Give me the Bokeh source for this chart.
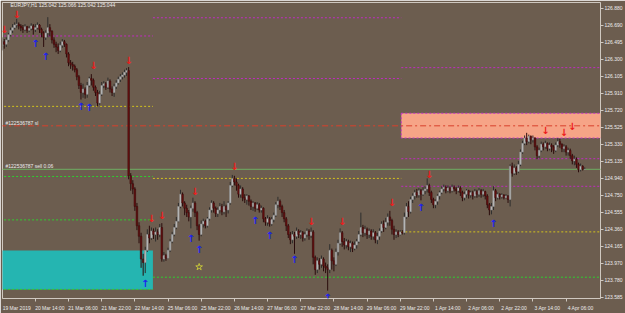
from bokeh.plotting import figure
from bokeh.models import Range1d, FixedTicker, Label, PrintfTickFormatter
from bokeh.core.properties import value
from bokeh.embed import file_html
from bokeh.resources import INLINE

# ---------------- data ----------------
header_text = "EURJPY,H1  125.042 125.066 125.042 125.044"
first_open = 126.45

closes = [
    126.50,126.47,126.52,126.58,126.63,126.66,126.69,126.70,126.68,126.66,
    126.64,126.67,126.63,126.65,126.68,126.64,126.66,126.69,126.64,126.60,
    126.55,126.60,126.66,126.62,126.52,126.47,126.44,126.40,126.46,126.50,
    126.47,126.36,126.26,126.24,126.22,126.18,126.10,126.00,125.92,125.96,
    125.90,126.00,126.08,126.06,125.98,125.92,125.80,125.90,126.00,126.02,
    125.98,126.05,125.96,125.92,125.99,126.03,126.07,126.10,126.12,126.15,
    126.17,124.97,124.88,124.82,124.62,124.40,124.28,124.02,123.98,124.12,
    124.30,124.26,124.34,124.30,
    124.33,124.30,124.38,124.02,124.06,124.03,124.12,124.22,124.30,124.38,
    124.45,124.62,124.76,124.66,124.60,124.55,124.50,124.60,124.66,124.55,
    124.40,124.30,124.42,124.45,124.40,124.48,124.58,124.66,124.60,124.54,
    124.58,124.62,124.56,124.62,124.58,124.66,124.86,124.94,124.90,124.86,
    124.76,124.82,124.72,124.70,124.74,124.68,124.62,124.66,124.60,124.64,
    124.58,124.60,124.48,124.44,124.48,124.42,124.47,124.52,124.64,124.68,
    124.62,124.55,124.48,124.40,124.30,124.24,124.30,124.28,124.34,124.30,
    124.32,124.26,124.30,124.34,124.29,124.33,124.04,123.90,124.00,123.96,
    124.02,123.94,123.92,123.90,124.12,124.00,123.96,124.10,124.20,124.32,
    124.22,124.18,124.22,124.16,124.20,124.14,124.18,124.22,124.30,124.38,
    124.32,124.36,124.30,124.34,124.28,124.32,124.24,124.28,124.34,124.42,
    124.38,124.44,124.50,124.46,124.36,124.30,124.33,124.30,124.33,124.32,
    124.50,124.62,124.56,124.70,124.74,124.78,124.75,124.80,124.76,124.80,
    124.82,124.86,124.78,124.70,124.64,124.68,124.74,124.78,124.82,124.84,
    124.80,124.83,124.80,124.84,124.82,124.80,124.83,124.78,124.72,124.76,
    124.80,124.75,124.78,124.74,124.79,124.76,124.80,124.76,124.79,124.74,
    124.64,124.58,124.62,124.80,124.72,124.76,124.73,124.75,124.72,124.74,
    124.70,125.08,125.00,125.06,125.02,125.10,125.24,125.34,125.40,125.36,
    125.42,125.38,125.40,125.30,125.20,125.26,125.33,125.30,125.34,125.28,
    125.32,125.30,125.26,125.32,125.36,125.33,125.28,125.30,125.24,125.26,
    125.20,125.14,125.16,125.10,125.04,125.08,125.042,125.044,
]

highs = [
    126.55,126.53,126.55,126.60,126.66,126.70,126.72,126.76,126.72,126.70,
    126.69,126.70,126.68,126.68,126.71,126.70,126.70,126.72,126.70,126.66,
    126.62,126.63,126.78,126.70,126.63,126.55,126.50,126.48,126.50,126.53,
    126.52,126.48,126.38,126.29,126.27,126.24,126.20,126.12,126.03,126.02,
    125.98,126.04,126.10,126.13,126.08,126.00,125.95,125.94,126.04,126.05,
    126.04,126.09,126.07,125.99,126.02,126.06,126.10,126.13,126.15,126.18,
    126.20,126.21,125.00,124.92,124.84,124.66,124.44,124.32,124.08,124.16,
    124.36,124.40,124.38,124.37,
    124.38,124.36,124.42,124.43,124.10,124.08,124.15,124.25,124.33,124.42,
    124.50,124.66,124.81,124.78,124.68,124.64,124.58,124.63,124.72,124.68,
    124.57,124.42,124.46,124.48,124.47,124.50,124.61,124.69,124.68,124.62,
    124.61,124.66,124.65,124.68,124.64,124.68,124.90,124.98,124.97,124.94,
    124.88,124.86,124.84,124.76,124.76,124.75,124.70,124.68,124.67,124.67,
    124.66,124.63,124.61,124.50,124.52,124.50,124.50,124.55,124.67,124.73,
    124.70,124.64,124.58,124.50,124.42,124.33,124.34,124.33,124.38,124.36,
    124.35,124.34,124.33,124.37,124.36,124.38,124.35,124.06,124.04,124.03,
    124.06,124.04,123.98,123.96,124.19,124.14,124.04,124.14,124.24,124.37,
    124.34,124.26,124.25,124.24,124.23,124.22,124.22,124.25,124.34,124.55,
    124.41,124.40,124.38,124.37,124.36,124.36,124.34,124.32,124.37,124.45,
    124.46,124.49,124.54,124.57,124.48,124.40,124.36,124.35,124.35,124.35,
    124.55,124.66,124.68,124.73,124.77,124.81,124.82,124.83,124.82,124.84,
    124.85,124.94,124.88,124.80,124.72,124.70,124.76,124.80,124.85,124.87,
    124.86,124.86,124.85,124.87,124.86,124.84,124.86,124.85,124.80,124.79,
    124.82,124.81,124.80,124.80,124.82,124.81,124.83,124.82,124.82,124.80,
    124.76,124.66,124.66,124.85,124.82,124.78,124.77,124.77,124.76,124.76,
    124.75,125.10,125.12,125.10,125.08,125.14,125.27,125.37,125.43,125.46,
    125.44,125.43,125.43,125.41,125.32,125.29,125.36,125.35,125.37,125.35,
    125.35,125.34,125.32,125.35,125.40,125.39,125.34,125.33,125.32,125.29,
    125.28,125.22,125.20,125.18,125.12,125.11,125.09,125.066,
]

lows = [
    126.40,126.42,126.44,126.50,126.56,126.60,126.64,126.66,126.64,126.62,
    126.60,126.62,126.60,126.61,126.63,126.58,126.61,126.64,126.60,126.55,
    126.44,126.52,126.55,126.56,126.48,126.43,126.38,126.36,126.38,126.43,
    126.44,126.32,126.22,126.19,126.17,126.15,126.06,125.96,125.84,125.86,
    125.85,125.86,125.98,126.00,125.94,125.88,125.76,125.78,125.88,125.97,
    125.95,125.96,125.92,125.88,125.87,125.96,126.01,126.04,126.07,126.09,
    126.11,124.93,124.80,124.76,124.57,124.35,124.20,123.92,123.83,123.86,
    124.10,124.20,124.24,124.25,
    124.22,124.24,124.27,123.99,123.99,124.00,124.02,124.10,124.20,124.28,
    124.36,124.44,124.60,124.62,124.52,124.50,124.45,124.37,124.56,124.50,
    124.35,124.23,124.28,124.38,124.37,124.38,124.46,124.55,124.55,124.50,
    124.50,124.54,124.52,124.53,124.50,124.54,124.64,124.84,124.86,124.80,
    124.72,124.72,124.68,124.66,124.64,124.63,124.58,124.57,124.56,124.58,
    124.55,124.55,124.44,124.40,124.40,124.39,124.40,124.44,124.50,124.60,
    124.58,124.50,124.44,124.34,124.26,124.19,124.20,124.08,124.25,124.26,
    124.25,124.22,124.23,124.27,124.24,124.26,123.96,123.84,123.86,123.90,
    123.92,123.88,123.86,123.66,123.86,123.90,123.88,123.94,124.06,124.18,
    124.16,124.13,124.14,124.12,124.10,124.10,124.12,124.14,124.20,124.28,
    124.27,124.28,124.25,124.26,124.24,124.24,124.20,124.19,124.24,124.32,
    124.33,124.36,124.40,124.40,124.30,124.24,124.26,124.27,124.29,124.30,
    124.30,124.48,124.50,124.54,124.66,124.70,124.72,124.72,124.69,124.74,
    124.76,124.78,124.74,124.66,124.60,124.60,124.64,124.70,124.76,124.79,
    124.77,124.78,124.77,124.78,124.79,124.76,124.78,124.74,124.68,124.69,
    124.72,124.71,124.72,124.70,124.72,124.72,124.73,124.72,124.73,124.70,
    124.60,124.52,124.53,124.58,124.68,124.70,124.70,124.71,124.70,124.71,
    124.66,124.62,124.96,124.98,124.98,125.00,125.08,125.22,125.32,125.32,
    125.34,125.33,125.35,125.26,125.16,125.17,125.24,125.26,125.28,125.25,
    125.26,125.24,125.22,125.24,125.30,125.29,125.24,125.24,125.20,125.20,
    125.16,125.10,125.09,125.06,125.01,125.02,125.03,125.042,
]

opens = [first_open] + closes[:-1]
bars = list(range(len(closes)))

time_ticks = [0, 16, 32, 48, 64, 80, 96, 112, 128, 144, 160, 176, 192, 208, 224, 240, 256, 272]
time_labels = ["19 Mar 2019", "20 Mar 14:00", "21 Mar 06:00", "21 Mar 22:00", "22 Mar 14:00",
               "25 Mar 06:00", "25 Mar 22:00", "26 Mar 14:00", "27 Mar 06:00", "27 Mar 22:00",
               "28 Mar 14:00", "29 Mar 06:00", "29 Mar 22:00", "1 Apr 14:00", "2 Apr 06:00",
               "2 Apr 22:00", "3 Apr 14:00", "4 Apr 06:00"]

price_ticks = [126.880, 126.690, 126.495, 126.300, 126.105, 125.910, 125.720, 125.525, 125.330,
               125.135, 124.940, 124.750, 124.555, 124.360, 124.165, 123.970, 123.780, 123.585]

# weekly levels: (start bar, end bar, price)
magenta_x0 = [-1, 72.7, 72.7, 192.5, 192.5, 192.5]
magenta_x1 = [72.7, 192.5, 192.5, 292, 292, 292]
magenta_y = [126.565, 126.773, 126.080, 126.204, 125.165, 124.850]
yellow_x0 = [-1, 72.7, 192.5]
yellow_x1 = [72.7, 192.5, 292]
yellow_y = [125.762, 124.940, 124.330]
green_x0 = [-1, -1, 72.7, -1]
green_x1 = [72.7, 72.7, 292, 72.7]
green_y = [124.962, 124.467, 123.813, 123.674]
sl_price = 125.540
order_price = 125.044
last_price = 125.044

supply_zone = dict(left=192.5, right=292, bottom=125.401, top=125.683)
demand_zone = dict(left=-1, right=72.7, bottom=123.674, top=124.118)

sell_x = [1, 7, 44, 61, 72, 77, 93, 112, 149, 164, 188, 206, 262, 271, 275]
sell_y = [126.64, 126.81, 126.23, 126.28, 124.48, 124.52, 124.79, 125.08, 124.45, 124.45,
          124.67, 124.98, 125.49, 125.46, 125.53]
buy_x = [16, 21, 38, 42, 69, 91, 95, 122, 129, 141, 157, 202, 237]
buy_y = [126.48, 126.33, 125.76, 125.75, 123.74, 124.25, 124.13, 124.46, 124.29, 124.02,
         123.58, 124.61, 124.43]
star_x = [95]
star_y = [123.93]

# ---------------- styling ----------------
BG = "#6c5d4f"
FRAME = "#cfc8c0"
TXT = "#ececec"
FONT = "Liberation Sans"

p = figure(width=625, height=313, output_backend="svg", toolbar_location=None,
           x_range=Range1d(0.15, 288.6), y_range=Range1d(123.57, 126.947),
           y_axis_location="right", min_border=0, min_border_left=2, min_border_top=2)
p.background_fill_color = BG
p.border_fill_color = BG
p.outline_line_color = FRAME
p.outline_line_width = 1
p.xgrid.visible = False
p.ygrid.visible = False

# y axis
ya = p.yaxis[0]
ya.ticker = FixedTicker(ticks=price_ticks)
ya.formatter = PrintfTickFormatter(format="%.3f")
ya.axis_line_color = None
ya.major_tick_out = 3
ya.major_tick_in = 0
ya.major_tick_line_color = FRAME
ya.minor_tick_line_color = None
ya.major_label_standoff = 1
ya.major_label_text_font = FONT
ya.major_label_text_font_size = "5px"
ya.major_label_text_color = TXT

# x axis: tick marks at bar positions (minor), labels starting at ticks (major, shifted)
xa = p.xaxis[0]
label_pos = [t + 7 for t in time_ticks]
xa.ticker = FixedTicker(ticks=label_pos, minor_ticks=time_ticks)
xa.major_label_overrides = {lp: lab for lp, lab in zip(label_pos, time_labels)}
xa.axis_line_color = None
xa.major_tick_line_color = None
xa.major_tick_out = 0
xa.major_tick_in = 0
xa.minor_tick_out = 3
xa.minor_tick_in = 0
xa.minor_tick_line_color = FRAME
xa.major_label_standoff = 3
xa.major_label_text_font = FONT
xa.major_label_text_font_size = "5px"
xa.major_label_text_color = TXT

# zones
p.quad(left=[demand_zone["left"]], right=[demand_zone["right"]],
       bottom=[demand_zone["bottom"]], top=[demand_zone["top"]],
       fill_color="#25b5b1", line_color=None)
p.quad(left=[supply_zone["left"]], right=[supply_zone["right"]],
       bottom=[supply_zone["bottom"]], top=[supply_zone["top"]],
       fill_color="#f6a487", line_color="#c838c8", line_dash="2 2", line_width=1)

# level lines
p.segment(x0=magenta_x0, y0=magenta_y, x1=magenta_x1, y1=magenta_y,
          line_color="#c02cc0", line_dash="2 2", line_width=1)
p.segment(x0=yellow_x0, y0=yellow_y, x1=yellow_x1, y1=yellow_y,
          line_color="#d2c21e", line_dash="2 2", line_width=1)
p.segment(x0=green_x0, y0=green_y, x1=green_x1, y1=green_y,
          line_color="#2fcf2f", line_dash="2 2", line_width=1)
p.segment(x0=[-1], y0=[sl_price], x1=[292], y1=[sl_price],
          line_color="#d8402c", line_dash="6 3 2 3", line_width=1)
p.segment(x0=[-1], y0=[order_price], x1=[292], y1=[order_price],
          line_color="#6fae62", line_width=1)

# candles
up = [c >= o for o, c in zip(opens, closes)]
body_fill = ["#c4c4c4" if u else "#6a1010" for u in up]
body_line = ["#8a8a8a" if u else "#3c0c0c" for u in up]
wick_col = ["#2e2e2e" if u else "#2a0c0c" for u in up]
tops = [max(o, c) for o, c in zip(opens, closes)]
bots = [min(o, c) for o, c in zip(opens, closes)]
p.segment(x0=bars, y0=lows, x1=bars, y1=highs, line_color=wick_col, line_width=1)
p.vbar(x=bars, width=0.75, top=tops, bottom=bots, fill_color=body_fill,
       line_color=body_line, line_width=0.6)

# signal arrows
p.text(x=sell_x, y=sell_y, text=["\u2193"] * len(sell_x), text_color="#ee1c1c",
       text_font=value("DejaVu Sans"), text_font_size="10px", text_font_style="bold",
       text_align="center", text_baseline="middle")
p.text(x=buy_x, y=buy_y, text=["\u2191"] * len(buy_x), text_color="#1c22f0",
       text_font=value("DejaVu Sans"), text_font_size="10px", text_font_style="bold",
       text_align="center", text_baseline="middle")
p.scatter(x=star_x, y=star_y, marker="star", size=7, fill_color=None,
          line_color="#c4c43a", line_width=1)

# texts
p.add_layout(Label(x=4.0, y=126.914, text=header_text, text_font=FONT, text_font_size="5px",
                   text_color=TXT, text_baseline="middle", text_align="left"))
p.add_layout(Label(x=1.6, y=125.575, text="#122536787 sl", text_font=FONT,
                   text_font_size="5px", text_color=TXT, text_baseline="middle"))
p.add_layout(Label(x=1.6, y=125.078, text="#122536787 sell 0.06", text_font=FONT,
                   text_font_size="5px", text_color=TXT, text_baseline="middle"))
p.add_layout(Label(x=289.4, y=last_price, text="125.044", text_font=FONT,
                   text_font_size="5px", text_color="#202020", text_baseline="middle",
                   background_fill_color="#e4e4e4", border_line_color="#f4f4f4"))

open("out.html", "w").write(file_html(p, INLINE))
